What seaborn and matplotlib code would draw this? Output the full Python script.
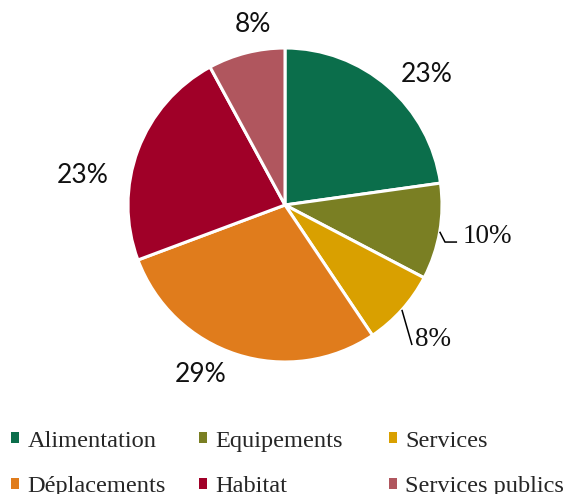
import matplotlib
matplotlib.use("Agg")
import matplotlib.pyplot as plt
import seaborn as sns
import numpy as np
from matplotlib.patches import Patch

# Household budget breakdown (percent)
categories = ["Alimentation", "Equipements", "Services",
              "Déplacements", "Habitat", "Services publics"]
shares = [23, 10, 8, 29, 23, 8]
colors = ["#0B6E4B", "#7A7F23", "#D9A000", "#E07C1C", "#A00028", "#B0565E"]

sns.set_theme(style="white")
plt.rcParams["font.family"] = ["Lato", "DejaVu Sans"]
SERIF = ["Liberation Serif", "DejaVu Serif"]

W, H, DPI = 569, 494, 100
fig = plt.figure(figsize=(W / DPI, H / DPI), dpi=DPI)
fig.patch.set_facecolor("white")
ax = fig.add_axes([0, 0, 1, 1])

wedges, _ = ax.pie(shares, colors=colors, startangle=90, counterclock=False,
                   radius=1.0,
                   wedgeprops=dict(edgecolor="white", linewidth=2.2))

# pie radius / centre in pixels
R, cx, cy = 157.0, 285.0, 205.0
ax.set_xlim(-cx / R, (W - cx) / R)
ax.set_ylim(-(H - cy) / R, cy / R)
ax.axis("off")

# label layout: (x, y, ha, serif, leader path offsets)
layout = [
    (0.904, 0.783, "center", False, None),
    (1.134, -0.242, "left", True, [(1.019, -0.236), (1.096, -0.236)]),
    (0.828, -0.898, "left", True, [(0.809, -0.892)]),
    (-0.535, -1.127, "center", False, None),
    (-1.290, 0.140, "center", False, None),
    (-0.204, 1.102, "center", False, None),
]

for w, val, (lx, ly, ha, serif, path) in zip(wedges, shares, layout):
    fam = SERIF if serif else ["Lato", "DejaVu Sans"]
    size = 19.5 if serif else 19
    ax.text(lx, ly, f"{val}%", ha=ha, va="baseline", fontsize=size,
            family=fam, color="#111111")
    if path:
        mid = np.deg2rad((w.theta1 + w.theta2) / 2)
        xs = [np.cos(mid)] + [p[0] for p in path]
        ys = [np.sin(mid)] + [p[1] for p in path]
        ax.plot(xs, ys, color="black", lw=1.1, solid_capstyle="butt")

# legend laid out in three fixed-width columns
col_x = [11, 199, 389]
for c in range(3):
    idx = [c, c + 3]
    handles = [Patch(facecolor=colors[i], edgecolor="none") for i in idx]
    labels = [categories[i] for i in idx]
    fig.legend(handles, labels, loc="upper left",
               bbox_to_anchor=(col_x[c] / W, 1 - 430.5 / H),
               frameon=False, borderpad=0, borderaxespad=0,
               handlelength=0.32, handleheight=0.32, handletextpad=0.35,
               labelspacing=1.0, prop=dict(family=SERIF, size=17.6))

fig.savefig("out.png", dpi=DPI, facecolor="white")
